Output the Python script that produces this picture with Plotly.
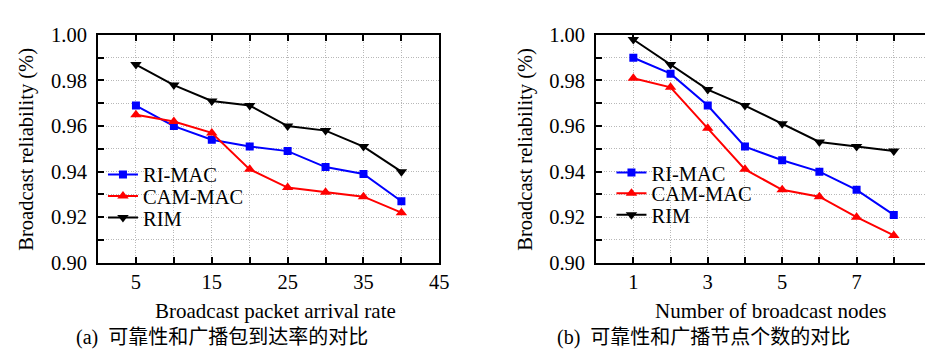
import plotly.graph_objects as go

# ---- data ----
rate = [5, 10, 15, 20, 25, 30, 35, 40]
ri_rate = [0.969, 0.960, 0.954, 0.951, 0.949, 0.942, 0.939, 0.927]
cam_rate = [0.965, 0.962, 0.957, 0.941, 0.933, 0.931, 0.929, 0.922]
rim_rate = [0.987, 0.978, 0.971, 0.969, 0.960, 0.958, 0.951, 0.940]

nodes = [1, 2, 3, 4, 5, 6, 7, 8]
ri_nodes = [0.990, 0.983, 0.969, 0.951, 0.945, 0.940, 0.932, 0.921]
cam_nodes = [0.981, 0.977, 0.959, 0.941, 0.932, 0.929, 0.920, 0.912]
rim_nodes = [0.998, 0.987, 0.976, 0.969, 0.961, 0.953, 0.951, 0.949]

x1_ticks = [0, 5, 10, 15, 20, 25, 30, 35, 40, 45]
x1_labels = ["", "5", "", "15", "", "25", "", "35", "", "45"]
x2_ticks = [0, 1, 2, 3, 4, 5, 6, 7, 8, 9]
x2_labels = ["", "1", "", "3", "", "5", "", "7", "", "9"]
y_ticks = [0.90, 0.91, 0.92, 0.93, 0.94, 0.95, 0.96, 0.97, 0.98, 0.99, 1.00]
y_labels = ["0.90", "", "0.92", "", "0.94", "", "0.96", "", "0.98", "", "1.00"]
y_minor = [round(0.90 + 0.004 * i, 3) for i in range(26)]

names = ["RI-MAC", "CAM-MAC", "RIM"]
colors = ["#0000ff", "#ff0000", "#000000"]
symbols = ["square", "triangle-up", "triangle-down"]
sizes = [8, 10, 10]

W, H = 933, 352
def px(x):
    return x / W
def py(y):
    return 1 - y / H

FONT = "Liberation Serif"
CJK = "Liberation Serif, Noto Sans CJK SC"

fig = go.Figure()
left = [ri_rate, cam_rate, rim_rate]
right = [ri_nodes, cam_nodes, rim_nodes]
for i in range(3):
    fig.add_trace(go.Scatter(x=rate, y=left[i], name=names[i], mode="lines+markers",
                             line=dict(color=colors[i], width=2),
                             marker=dict(symbol=symbols[i], size=sizes[i], color=colors[i]),
                             xaxis="x", yaxis="y", legend="legend" if i == 0 else "legend%d" % (i + 1)))
for i in range(3):
    fig.add_trace(go.Scatter(x=nodes, y=right[i], name=names[i], mode="lines+markers",
                             line=dict(color=colors[i], width=2),
                             marker=dict(symbol=symbols[i], size=sizes[i], color=colors[i]),
                             xaxis="x2", yaxis="y2", legend="legend%d" % (i + 4)))

tickfont = dict(family=FONT, size=20.5, color="black")
common = dict(showline=True, linecolor="black", linewidth=2, ticks="inside", ticklen=6,
              tickwidth=1.5, tickcolor="black", showgrid=True, gridcolor="#b8b8b8",
              griddash="1px,1.5px", gridwidth=1, zeroline=False, tickfont=tickfont)

ydom = [py(260), py(17)]
layout = dict(
    width=W, height=H,
    margin=dict(l=0, r=0, t=0, b=0),
    paper_bgcolor="white", plot_bgcolor="white",
    xaxis=dict(common, domain=[px(91), px(436)], range=[0, 45], tickvals=x1_ticks,
               ticktext=x1_labels, mirror="ticks", anchor="y", ticklabelstandoff=0),
    yaxis=dict(common, domain=ydom, range=[0.90, 1.00], tickvals=y_ticks,
               ticktext=y_labels, mirror=True, anchor="x", ticklabelstandoff=5),
    yaxis3=dict(overlaying="y", anchor="x", side="right", range=[0.90, 1.00],
                tickvals=y_minor, ticks="inside", ticklen=5, tickwidth=1.5, tickcolor="black",
                showticklabels=False, showgrid=False, showline=False, zeroline=False),
    xaxis2=dict(common, domain=[px(594.5), 1.0], range=[0, 9], tickvals=x2_ticks,
                ticktext=x2_labels, mirror="ticks", anchor="y2", ticklabelstandoff=0),
    yaxis2=dict(common, domain=ydom, range=[0.90, 1.00], tickvals=y_ticks,
                ticktext=y_labels, mirror=True, anchor="x2", ticklabelstandoff=5),
    yaxis4=dict(overlaying="y2", anchor="x2", side="right", range=[0.90, 1.00],
                tickvals=y_minor, ticks="inside", ticklen=5, tickwidth=1.5, tickcolor="black",
                showticklabels=False, showgrid=False, showline=False, zeroline=False),
    showlegend=True,
)

# one legend box per entry so the row spacing matches the reference
leg_rows_left = [166, 189, 212]
leg_rows_right = [164, 186, 209]
for i in range(3):
    key = "legend" if i == 0 else "legend%d" % (i + 1)
    layout[key] = dict(x=px(96), y=py(leg_rows_left[i]), xanchor="left", yanchor="middle",
                       bgcolor="rgba(0,0,0,0)", font=dict(family=FONT, size=20.5, color="black"),
                       itemwidth=30)
    layout["legend%d" % (i + 4)] = dict(x=px(610), y=py(leg_rows_right[i]), xanchor="left",
                                        yanchor="middle", bgcolor="rgba(0,0,0,0)",
                                        font=dict(family=FONT, size=20.5, color="black"),
                                        itemwidth=30)
fig.update_layout(**layout)

ann = []
def text(x, y, s, size=20, angle=0, family=FONT, xanchor="center"):
    ann.append(dict(x=px(x), y=py(y), xref="paper", yref="paper", text=s, showarrow=False,
                    textangle=angle, xanchor=xanchor, yanchor="middle",
                    font=dict(family=family, size=size, color="black")))

text(270, 311, "Broadcast packet arrival rate", size=21)
text(771, 311, "Number of broadcast nodes", size=21)
text(19, 138.5, "Broadcast reliability (%)", size=20.5, angle=-90)
text(523.5, 138.5, "Broadcast reliability (%)", size=20.5, angle=-90)
text(67, 340, "(a)  可靠性和广播包到达率的对比", size=20, family=CJK, xanchor="left")
text(553, 340, "(b)  可靠性和广播节点个数的对比", size=20, family=CJK, xanchor="left")
fig.update_layout(annotations=ann)

fig.write_html("out.html")
